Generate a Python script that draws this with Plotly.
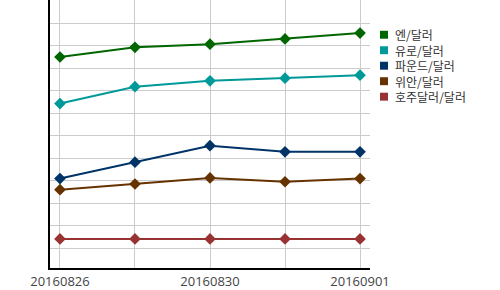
import plotly.graph_objects as go

dates = ["20160826", "20160829", "20160830", "20160831", "20160901"]
tick_labels = ["20160826", "", "20160830", "", "20160901"]

series_names = ["엔/달러", "유로/달러", "파운드/달러", "위안/달러", "호주달러/달러"]
yen = [9.50, 9.93, 10.07, 10.30, 10.56]
euro = [7.43, 8.18, 8.44, 8.56, 8.69]
pound = [4.10, 4.83, 5.56, 5.29, 5.29]
yuan = [3.61, 3.86, 4.13, 3.96, 4.10]
aud = [1.42, 1.42, 1.42, 1.42, 1.42]
colors = ["#006600", "#009999", "#003366", "#663300", "#993333"]

series = [yen, euro, pound, yuan, aud]
xi = list(range(len(dates)))

W, H = 500, 290
ML, MR, MT, MB = 50, 130, 0, 20
PW, PH = W - ML - MR, H - MT - MB
LEG_FONT = 12
ROW = LEG_FONT * 1.3
ROW0 = 35

def px_x(px):
    return (px - ML) / PW

def px_y(py):
    return (H - MB - py) / PH

fig = go.Figure()
for name, vals, c in zip(series_names, series, colors):
    fig.add_trace(go.Scatter(
        x=xi, y=vals, mode="lines+markers", name=name, showlegend=False,
        line=dict(color=c, width=2),
        marker=dict(symbol="diamond", size=9, color=c),
    ))

# manual compact legend: colour squares + one multi-line text block
shapes = []
for i, c in enumerate(colors):
    cy = ROW0 + ROW * i
    shapes.append(dict(
        type="rect", xref="paper", yref="paper",
        x0=px_x(380), x1=px_x(388), y0=px_y(cy + 4), y1=px_y(cy - 4),
        fillcolor=c, line=dict(width=0),
    ))
annotations = [dict(
    xref="paper", yref="paper", x=px_x(394), y=px_y(ROW0 - ROW / 2 - 2),
    xanchor="left", yanchor="top", align="left", showarrow=False,
    borderpad=0, text="<br>".join(series_names),
    font=dict(family="Noto Sans CJK KR, sans-serif", size=LEG_FONT, color="#333"),
)]

fig.update_layout(
    width=W, height=H,
    margin=dict(l=ML, r=MR, t=MT, b=MB),
    paper_bgcolor="white", plot_bgcolor="white",
    font=dict(family="Open Sans, Noto Sans CJK KR, sans-serif", size=13, color="#444"),
    showlegend=False,
    shapes=shapes,
    annotations=annotations,
    xaxis=dict(
        range=[-0.133, 4.133],
        tickmode="array", tickvals=xi, ticktext=tick_labels,
        showgrid=True, gridcolor="#cccccc", gridwidth=1,
        showline=True, linecolor="black", linewidth=2,
        ticks="", zeroline=False,
        tickfont=dict(size=13, color="#444"),
    ),
    yaxis=dict(
        range=[0.13, 12.03], dtick=1, tick0=0,
        showgrid=True, gridcolor="#cccccc", gridwidth=1,
        showline=True, linecolor="black", linewidth=2,
        showticklabels=False, ticks="", zeroline=False,
    ),
)

fig.write_html("out.html")
